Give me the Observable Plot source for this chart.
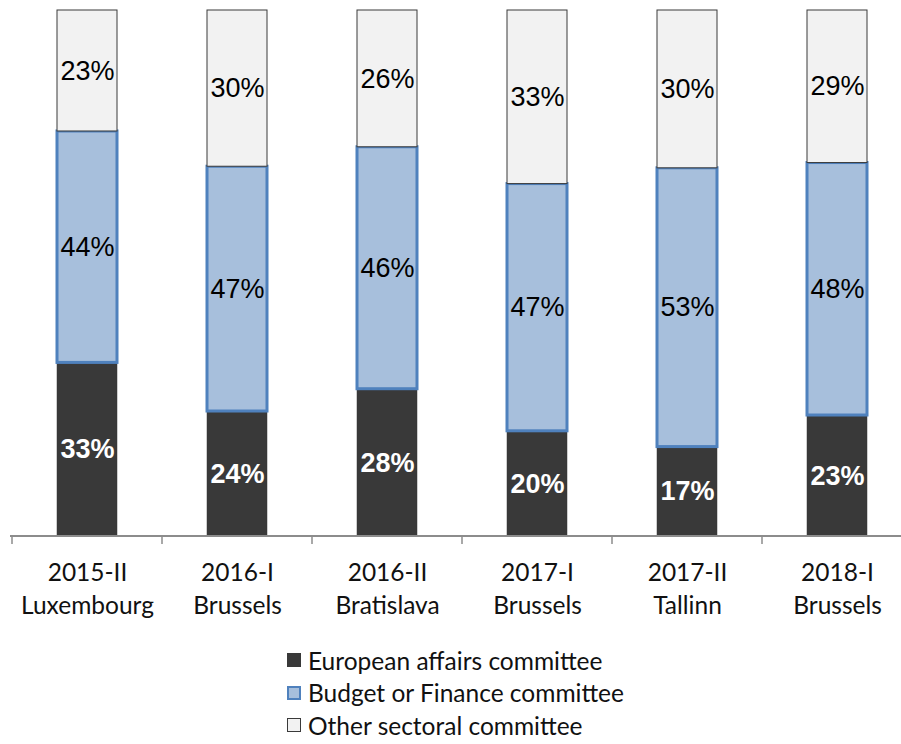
<!DOCTYPE html>
<html>
<head>
<meta charset="utf-8">
<script src="https://cdn.jsdelivr.net/npm/d3@7"></script>
<script src="https://cdn.jsdelivr.net/npm/@observablehq/plot@0.6"></script>
<style>
  html, body { margin: 0; padding: 0; background: #fff; }
  #chart svg { display: block; }
  .legend { margin-left: 287px; margin-top: 12px; font-family: Lato, "Open Sans", sans-serif; font-size: 24.5px; color: #111; }
  .legend .item { display: flex; align-items: center; height: 32.5px; }
  .legend .sw { width: 14px; height: 14px; margin-right: 7px; box-sizing: border-box; }
</style>
</head>
<body>
<div id="chart"></div>
<div class="legend" id="legend"></div>
<script>
// ---- data ----
const categories = ["2015-II\nLuxembourg", "2016-I\nBrussels", "2016-II\nBratislava", "2017-I\nBrussels", "2017-II\nTallinn", "2018-I\nBrussels"];
const series = ["European affairs committee", "Budget or Finance committee", "Other sectoral committee"];
const european = [33, 24, 28, 20, 17, 23];
const budget = [44, 47, 46, 47, 53, 48];
const other = [23, 30, 26, 33, 30, 29];

// ---- styles ----
const fills = {"European affairs committee": "#393939", "Budget or Finance committee": "#a7bfdc", "Other sectoral committee": "#f2f2f2"};
const strokes = {"European affairs committee": "#393939", "Budget or Finance committee": "#4f81bd", "Other sectoral committee": "#3a3a3a"};
const strokeWidths = {"European affairs committee": 0.5, "Budget or Finance committee": 3, "Other sectoral committee": 1};

const valuesBySeries = [european, budget, other];
const rows = [];
categories.forEach((c, i) => {
  series.forEach((s, j) => rows.push({cat: c, series: s, value: valuesBySeries[j][i]}));
});

const stackOpts = {x: "cat", y: "value", z: "series", order: series, offset: "normalize"};

// category axis line with tick marks at the band boundaries (Excel style)
const boundaryAxis = (index, scales, values, dimensions) => {
  const x = scales.x;
  const bw = typeof x.bandwidth === "function" ? x.bandwidth() : x.bandwidth;
  const step = x(categories[1]) - x(categories[0]);
  const gap = (step - bw) / 2;
  const xs = categories.map(c => x(c) - gap);
  xs.push(x(categories[categories.length - 1]) + bw + gap);
  const y0 = scales.y(0);
  const g = d3.create("svg:g").attr("stroke", "#8c8c8c");
  g.append("line")
    .attr("x1", xs[0] - 2).attr("x2", dimensions.width)
    .attr("y1", y0).attr("y2", y0)
    .attr("stroke-width", 2);
  g.selectAll("line.tick").data(xs).join("line")
    .attr("class", "tick")
    .attr("x1", d => d).attr("x2", d => d)
    .attr("y1", y0).attr("y2", y0 + 8)
    .attr("stroke-width", 1.5);
  return g.node();
};

const chart = Plot.plot({
  width: 901,
  height: 632,
  marginTop: 10,
  marginBottom: 96,
  marginLeft: 12,
  marginRight: -11,
  style: {fontFamily: "Lato, 'Open Sans', sans-serif", background: "#fff"},
  x: {domain: categories, paddingInner: 0.6, paddingOuter: 0.3, label: null},
  y: {domain: [0, 1], axis: null},
  marks: [
    Plot.barY(rows, Plot.stackY({
      ...stackOpts,
      fill: d => fills[d.series],
      stroke: d => strokes[d.series],
      strokeWidth: d => strokeWidths[d.series]
    })),
    Plot.text(rows, Plot.filter(d => d.series === series[0], Plot.stackY({
      ...stackOpts,
      text: d => d.value + "%",
      fill: "#ffffff",
      fontWeight: "bold",
      fontSize: 27,
      fontFamily: "'Liberation Sans', Arial, sans-serif"
    }))),
    Plot.text(rows, Plot.filter(d => d.series !== series[0], Plot.stackY({
      ...stackOpts,
      text: d => d.value + "%",
      fill: "#000000",
      fontSize: 27,
      fontFamily: "'Liberation Sans', Arial, sans-serif"
    }))),
    boundaryAxis,
    Plot.axisX({tickSize: 0, tickPadding: 22, fontSize: 24.5, lineHeight: 1.32, fill: "#111", label: null})
  ]
});
document.getElementById("chart").appendChild(chart);

// legend (HTML, below the SVG)
const legend = document.getElementById("legend");
series.forEach(s => {
  const item = document.createElement("div");
  item.className = "item";
  const sw = document.createElement("span");
  sw.className = "sw";
  sw.style.background = fills[s];
  sw.style.border = (s === series[1] ? "2.5px solid " : "1px solid ") + strokes[s];
  const t = document.createElement("span");
  t.textContent = s;
  item.appendChild(sw);
  item.appendChild(t);
  legend.appendChild(item);
});
</script>
</body>
</html>
